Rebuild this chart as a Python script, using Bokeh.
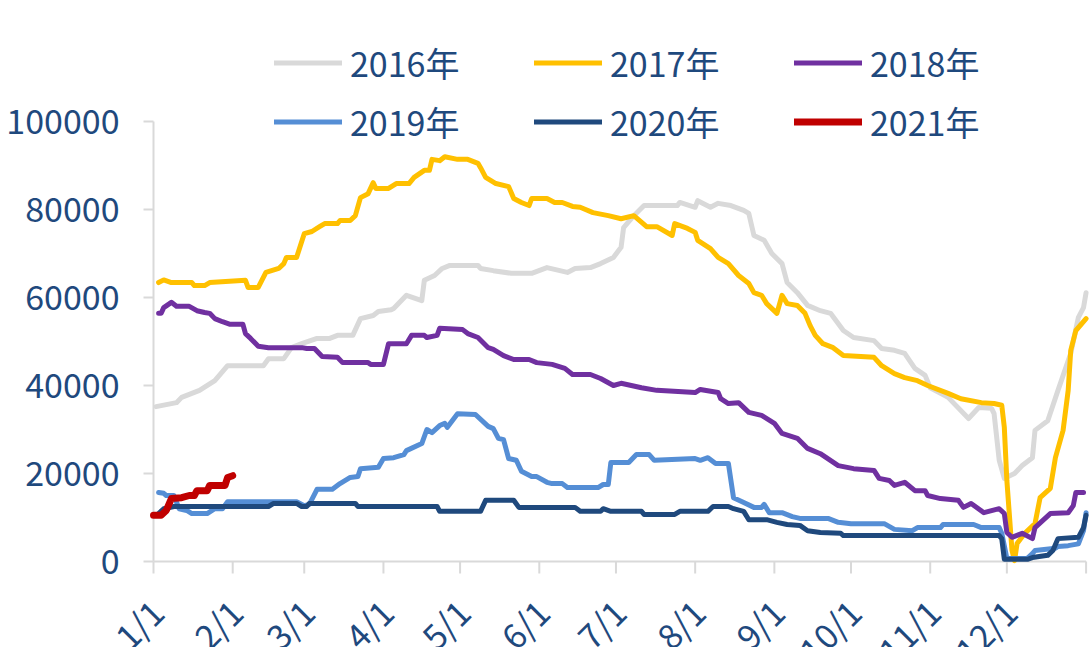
import math
from bokeh.plotting import figure
from bokeh.models import Range1d, Legend, LegendItem
from bokeh.core.properties import value
from bokeh.embed import file_html
from bokeh.resources import INLINE

# x = days since 1 January
month_ticks = [0, 31, 59, 90, 120, 151, 181, 212, 243, 273, 304, 334]
month_labels = ["1/1", "2/1", "3/1", "4/1", "5/1", "6/1", "7/1", "8/1", "9/1", "10/1", "11/1", "12/1"]
year_end = 365
y_ticks = [0, 20000, 40000, 60000, 80000, 100000]
y_labels = ["0", "20000", "40000", "60000", "80000", "100000"]

d2016 = [1, 9, 11, 18, 24, 29, 43, 45, 51, 54, 58, 64, 69, 72, 78, 81, 86, 88, 93, 94, 99, 105, 106, 110, 113, 116,
         127, 128, 133, 140, 148, 154, 162, 165, 171, 175, 180, 183, 184, 188, 192, 205, 206, 212, 213, 218, 221, 226,
         231, 233, 235, 239, 242, 246, 248, 252, 256, 261, 265, 270, 274, 282, 285, 290, 294, 298, 302, 304, 311, 319,
         323, 328, 329, 331, 333, 337, 340, 344, 345, 350, 354, 359, 362, 364, 365]
v2016 = [35200, 36100, 37300, 38900, 41100, 44500, 44500, 46100, 46100, 48600, 49500, 50700, 50700, 51400, 51400,
         55200, 55900, 56800, 57200, 57500, 60500, 59300, 63900, 65000, 66600, 67300, 67300, 66600, 66100, 65500,
         65500, 66800, 65700, 66600, 66800, 67700, 69100, 71400, 75900, 78600, 80900, 80900, 81600, 80500, 82000,
         80500, 81400, 80900, 79800, 79100, 74100, 73000, 70000, 67700, 63400, 61100, 58200, 57000, 56400, 52500,
         50900, 50200, 48400, 48000, 47300, 43900, 42300, 39500, 37300, 32500, 35000, 34800, 33600, 23000, 18900,
         20000, 21800, 23600, 29800, 32000, 38900, 47300, 55500, 57700, 61100]

d2017 = [2, 4, 7, 15, 16, 20, 22, 36, 37, 41, 44, 49, 51, 52, 56, 59, 62, 65, 67, 72, 73, 77, 79, 81, 84, 86, 87, 92,
         95, 100, 102, 106, 108, 109, 112, 114, 119, 123, 127, 128, 130, 134, 139, 141, 144, 147, 148, 154, 157, 160,
         164, 167, 172, 178, 183, 188, 193, 197, 203, 204, 209, 212, 213, 218, 221, 225, 229, 233, 235, 238, 240, 244,
         246, 248, 252, 255, 257, 259, 262, 266, 270, 282, 285, 290, 294, 299, 303, 311, 316, 324, 329, 332, 333, 334,
         336, 337, 338, 341, 345, 347, 351, 353, 356, 358, 359, 361, 365]
v2017 = [63400, 64000, 63400, 63400, 62700, 62700, 63400, 63900, 62300, 62300, 65700, 66600, 67700, 69100, 69100,
         74500, 75000, 76100, 76800, 76800, 77500, 77500, 78600, 82700, 83600, 86100, 84800, 84800, 85900, 85900,
         87300, 88900, 88900, 91400, 91100, 92000, 91400, 91400, 90500, 89500, 87300, 85900, 85200, 82500, 81600,
         80900, 82500, 82500, 81600, 81600, 80700, 80500, 79300, 78600, 77900, 78600, 76100, 76100, 74100, 76800,
         75700, 74800, 73000, 71100, 69100, 67700, 65000, 63200, 61100, 60500, 58600, 56400, 60500, 58600, 58200,
         56400, 53600, 51400, 49500, 48600, 46800, 46400, 44500, 42700, 41800, 41100, 40000, 38200, 37000, 36100,
         35900, 35500, 30500, 18400, 2500, 200, 4100, 6400, 8600, 14500, 16600, 23600, 29800, 38900, 48000, 52500,
         55200]

d2018 = [2, 3, 4, 7, 9, 14, 17, 20, 22, 24, 27, 30, 35, 36, 38, 41, 45, 58, 60, 63, 66, 72, 74, 84, 85, 90, 92, 99,
         101, 106, 107, 111, 112, 121, 123, 127, 131, 133, 137, 141, 147, 150, 156, 161, 164, 171, 175, 180, 183, 191,
         197, 212, 214, 221, 222, 225, 229, 233, 238, 243, 246, 252, 256, 261, 268, 274, 282, 284, 288, 290, 294, 298,
         302, 303, 308, 315, 317, 320, 325, 331, 333, 334, 336, 340, 344, 345, 351, 358, 360, 361, 364]
v2018 = [56400, 56400, 57700, 58900, 58000, 58000, 57000, 56600, 56400, 55200, 54500, 53900, 53900, 51800, 50700,
         48900, 48600, 48600, 48400, 48400, 46600, 46400, 45200, 45200, 44800, 44800, 49500, 49500, 51400, 51400,
         50900, 51400, 53000, 52700, 51800, 50900, 48600, 48200, 46800, 45900, 45900, 45200, 44800, 43900, 42500,
         42500, 41600, 40000, 40500, 39500, 38900, 38400, 39100, 38400, 37000, 35900, 36100, 33900, 33200, 31400,
         29100, 28000, 25700, 24500, 21800, 21100, 20700, 18900, 18400, 17300, 18000, 16100, 16100, 15000, 14300,
         13900, 12300, 13200, 11100, 12000, 10900, 6600, 5500, 6400, 5200, 7700, 10900, 11100, 12700, 15700, 15700]

d2019 = [2, 4, 5, 8, 10, 13, 15, 21, 24, 27, 29, 56, 59, 61, 64, 70, 73, 77, 80, 81, 88, 90, 94, 98, 99, 105, 107,
         109, 112, 114, 115, 119, 126, 131, 133, 135, 137, 139, 142, 144, 148, 150, 154, 156, 160, 162, 174, 176, 178,
         179, 186, 189, 194, 196, 212, 214, 217, 220, 225, 227, 231, 235, 238, 239, 241, 246, 250, 253, 264, 268, 273,
         286, 290, 297, 299, 308, 309, 321, 324, 331, 332, 333, 334, 342, 344, 345, 353, 354, 358, 362, 364, 365]
v2019 = [15700, 15500, 15000, 15000, 12000, 11600, 10900, 10900, 12000, 12000, 13600, 13600, 12700, 13000, 16400,
         16400, 17700, 19100, 19300, 21100, 21400, 23400, 23600, 24300, 25200, 26800, 30000, 29300, 30900, 31400,
         30500, 33600, 33400, 30700, 30200, 28000, 27700, 23400, 23000, 20500, 19300, 19300, 18000, 17700, 17700,
         16800, 16800, 17500, 17500, 22500, 22500, 24300, 24300, 23000, 23400, 23000, 23600, 22300, 22300, 14500,
         13400, 12300, 12300, 13000, 11100, 11100, 10200, 9800, 9800, 8900, 8600, 8600, 7300, 7000, 7700, 7700,
         8400, 8400, 7700, 7700, 6400, 3600, 700, 700, 1800, 2500, 3000, 3400, 3600, 4000, 7000, 11100]

d2020 = [2, 4, 8, 45, 47, 56, 58, 60, 61, 79, 80, 111, 112, 128, 130, 141, 143, 165, 167, 175, 176, 179, 191, 192,
         204, 206, 217, 219, 225, 227, 231, 233, 240, 244, 248, 253, 256, 261, 269, 270, 331, 332, 333, 342, 344, 350,
         352, 354, 362, 364, 365]
v2020 = [10900, 12000, 12500, 12500, 13200, 13200, 12500, 12500, 13200, 13200, 12500, 12500, 11400, 11400, 13900,
         13900, 12300, 12300, 11400, 11400, 12000, 11400, 11400, 10700, 10700, 11400, 11400, 12500, 12500, 12000,
         11400, 9500, 9500, 8900, 8400, 8200, 7000, 6600, 6400, 5900, 5900, 5200, 500, 500, 900, 1400, 2500, 5200,
         5500, 7700, 10500]

d2021 = [0, 3, 5, 7, 11, 14, 16, 17, 21, 22, 28, 29, 31]
v2021 = [10500, 10500, 11600, 14300, 14500, 15000, 15000, 16100, 16100, 17300, 17300, 19100, 19500]

series = [
    ("2016年", d2016, v2016, "#D9D9D9", 5),
    ("2017年", d2017, v2017, "#FFC000", 5),
    ("2018年", d2018, v2018, "#7030A0", 5),
    ("2019年", d2019, v2019, "#558ED5", 5),
    ("2020年", d2020, v2020, "#1F497D", 5),
    ("2021年", d2021, v2021, "#C00000", 7),
]

TEXT = "#1F497D"
FONT = "Noto Sans CJK SC"
AXIS = "#D9D9D9"
FS = "34px"

W, H = 1090, 647
# plot-area placement inside the canvas (pixels)
LEFT, TOP, BOTTOM_GAP = 153, 121, 86
px_per_day = 2.555
y_span = max(y_ticks) - min(y_ticks)
px_per_unit = (H - TOP - BOTTOM_GAP) / y_span
x_range = Range1d(-LEFT / px_per_day, (W - LEFT) / px_per_day)
y_range = Range1d(min(y_ticks) - BOTTOM_GAP / px_per_unit, max(y_ticks) + TOP / px_per_unit)

p = figure(width=W, height=H, output_backend="svg", toolbar_location=None,
           x_range=x_range, y_range=y_range, min_border=0)
p.xaxis.visible = False
p.yaxis.visible = False
p.xgrid.visible = False
p.ygrid.visible = False
p.outline_line_color = None
p.background_fill_color = "white"
p.border_fill_color = "white"

# axes drawn from the tick lists
p.segment(x0=[0], y0=[min(y_ticks)], x1=[0], y1=[max(y_ticks)], line_color=AXIS, line_width=2)
p.segment(x0=[0], y0=[0], x1=[year_end], y1=[0], line_color=AXIS, line_width=2)
p.ray(x=[0] * len(y_ticks), y=y_ticks, length=10, length_units="screen", angle=math.pi,
      line_color=AXIS, line_width=2)
p.ray(x=month_ticks + [year_end], y=[0] * (len(month_ticks) + 1), length=12, length_units="screen",
      angle=-math.pi / 2, line_color=AXIS, line_width=2)
p.text(x=[0] * len(y_ticks), y=y_ticks, text=y_labels, x_offset=-34, text_align="right",
       text_baseline="middle", text_font=value(FONT), text_font_size=FS, text_color=TEXT)
p.text(x=month_ticks, y=[0] * len(month_ticks), text=month_labels, angle=math.pi / 4,
       x_offset=3, y_offset=44, text_align="right", text_baseline="middle",
       text_font=value(FONT), text_font_size=FS, text_color=TEXT)

items = []
for name, xs, ys, col, lw in series:
    r = p.line(xs, ys, line_color=col, line_width=lw, line_join="round", line_cap="round")
    items.append(LegendItem(label=name, renderers=[r]))

legend = Legend(items=items, location=(274, H - 151), orientation="horizontal", ncols=3,
                glyph_width=68, glyph_height=59, label_width=184, label_height=59,
                label_standoff=8, spacing=0, padding=0, margin=0,
                border_line_color=None, background_fill_alpha=0,
                label_text_font=FONT, label_text_font_size=FS, label_text_color=TEXT)
p.add_layout(legend, "center")

open("out.html", "w").write(file_html(p, INLINE))
